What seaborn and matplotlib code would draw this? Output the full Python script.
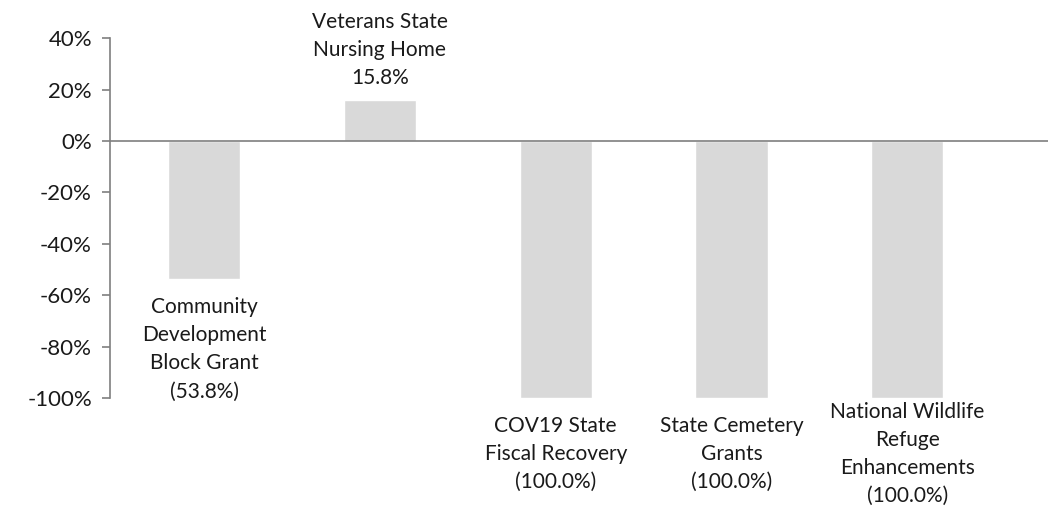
import matplotlib
matplotlib.use("Agg")
import matplotlib.pyplot as plt
import seaborn as sns
import pandas as pd
from matplotlib.ticker import FuncFormatter

categories = [
    "Community\nDevelopment\nBlock Grant",
    "Veterans State\nNursing Home",
    "COV19 State\nFiscal Recovery",
    "State Cemetery\nGrants",
    "National Wildlife\nRefuge\nEnhancements",
]
values = [-53.8, 15.8, -100.0, -100.0, -100.0]
yticks = [40, 20, 0, -20, -40, -60, -80, -100]

sns.set_theme(style="white")
plt.rcParams["font.family"] = ["Lato", "DejaVu Sans"]

df = pd.DataFrame({"cat": categories, "val": values})

fig = plt.figure(figsize=(10.48, 5.08), dpi=100)
ax = fig.add_axes([0.105, 0.2165, 0.895, 0.7085])

sns.barplot(data=df, x="cat", y="val", color="#d9d9d9", width=0.41,
            saturation=1, ax=ax, zorder=2)

ax.set_ylim(-100, 40)
ax.set_xlim(-0.535, 4.8)
ax.set_yticks(yticks)
ax.yaxis.set_major_formatter(FuncFormatter(lambda v, p: f"{v:.0f}%"))
ax.tick_params(axis="y", which="both", left=True, length=6, width=1.2,
               color="#7f7f7f", labelsize=16, labelcolor="#1a1a1a", pad=7)
ax.set_xticks([])
ax.set_xlabel("")
ax.set_ylabel("")
for s in ["top", "right", "bottom"]:
    ax.spines[s].set_visible(False)
ax.spines["left"].set_color("#7f7f7f")
ax.spines["left"].set_linewidth(1.2)
ax.axhline(0, color="#7f7f7f", lw=1.2, zorder=3)

for i, (name, v) in enumerate(zip(categories, values)):
    txt = f"{name}\n{v:.1f}%" if v >= 0 else f"{name}\n({abs(v):.1f}%)"
    off = 36.5 if v >= 0 else -40.5
    if i == 0:
        off = -50.5
    ax.annotate(txt, xy=(i, v), xytext=(0, off), textcoords="offset points",
                ha="center", va="center", fontsize=15, color="#1a1a1a",
                linespacing=1.5, annotation_clip=False)

fig.savefig("out.png", dpi=100)
